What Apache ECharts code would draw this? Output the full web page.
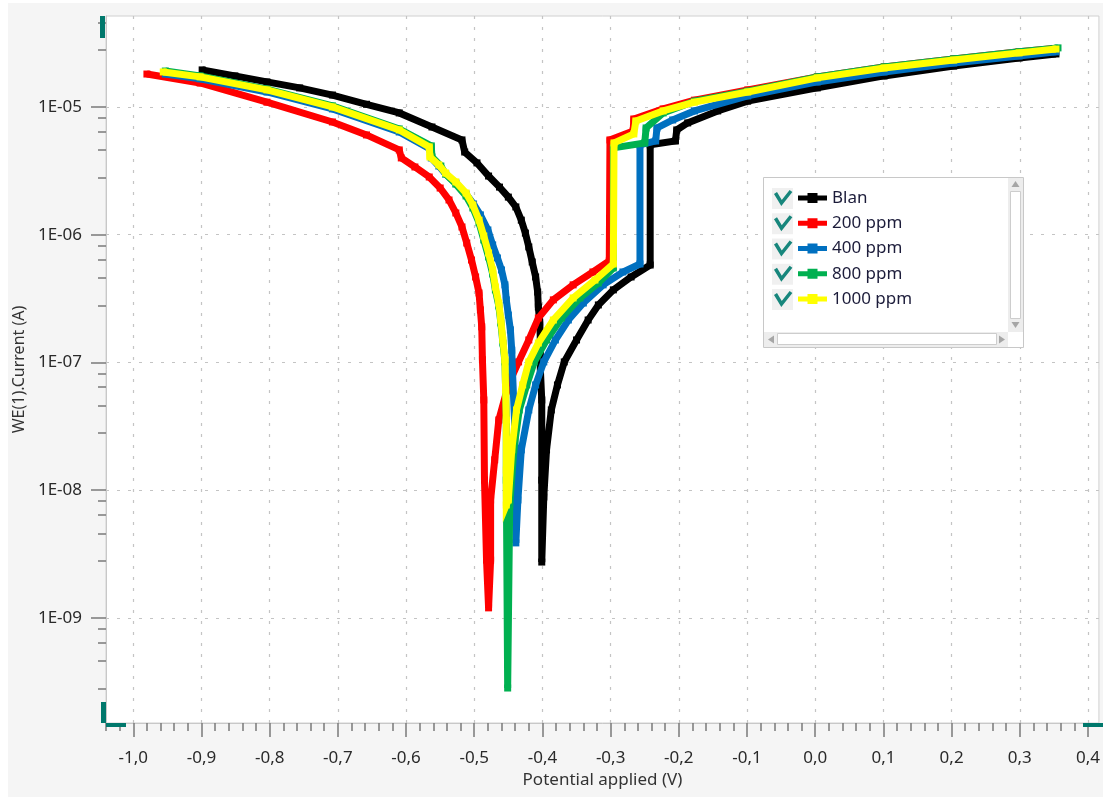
<!DOCTYPE html>
<html><head><meta charset="utf-8">
<script src="https://cdn.jsdelivr.net/npm/echarts@6/dist/echarts.min.js"></script>
<style>html,body{margin:0;padding:0;background:#fff}#chart{width:1103px;height:798px}</style>
</head><body><div id="chart"></div>
<script>
// ---- data (potential in V, current in A) ----
const seriesNames = ['Blan', '200 ppm', '400 ppm', '800 ppm', '1000 ppm'];
const seriesColors = ['#000000', '#ff0000', '#0070c0', '#00b050', '#ffff00'];

const blanPotential = [-0.899,-0.851,-0.804,-0.756,-0.708,-0.658,-0.610,-0.562,-0.518,-0.514,-0.496,-0.479,-0.463,-0.450,-0.439,-0.431,-0.425,-0.420,-0.415,-0.410,-0.407,-0.406,-0.404,-0.403,-0.403,-0.401,-0.401,-0.401,
  -0.398,-0.394,-0.387,-0.378,-0.368,-0.350,-0.333,-0.318,-0.296,-0.270,-0.242,-0.242,-0.205,-0.203,-0.187,-0.143,-0.099,0.003,0.101,0.203,0.299,0.353];
const blanCurrent = [1.95e-5,1.75e-5,1.57e-5,1.41e-5,1.24e-5,1.05e-5,8.98e-6,6.97e-6,5.52e-6,4.44e-6,3.65e-6,2.88e-6,2.36e-6,1.97e-6,1.65e-6,1.30e-6,1.03e-6,8.02e-7,6.12e-7,4.67e-7,3.56e-7,2.72e-7,2.07e-7,1.50e-7,8.74e-8,5.09e-8,1.20e-8,2.74e-9,
  8.85e-9,2.07e-8,4.25e-8,6.67e-8,1.01e-7,1.50e-7,2.15e-7,2.82e-7,3.70e-7,4.67e-7,5.79e-7,5.05e-6,5.42e-6,6.61e-6,7.50e-6,9.31e-6,1.11e-5,1.41e-5,1.75e-5,2.09e-5,2.42e-5,2.60e-5];

const ppm200Potential = [-0.980,-0.902,-0.804,-0.708,-0.658,-0.610,-0.607,-0.587,-0.566,-0.550,-0.537,-0.527,-0.518,-0.511,-0.504,-0.498,-0.493,-0.491,-0.489,-0.488,-0.486,-0.485,-0.482,-0.479,
  -0.476,-0.476,-0.470,-0.464,-0.454,-0.445,-0.435,-0.420,-0.406,-0.384,-0.355,-0.326,-0.302,-0.301,-0.267,-0.266,-0.223,-0.177,-0.099,0.003,0.101,0.203,0.299,0.350];
const ppm200Current = [1.81e-5,1.54e-5,1.09e-5,7.63e-6,6.04e-6,4.61e-6,3.99e-6,3.39e-6,2.83e-6,2.32e-6,1.87e-6,1.48e-6,1.15e-6,8.61e-7,6.34e-7,4.67e-7,3.50e-7,2.58e-7,1.90e-7,1.05e-7,5.09e-8,1.20e-8,2.84e-9,1.20e-9,
  2.84e-9,8.39e-9,1.73e-8,3.55e-8,5.57e-8,7.70e-8,1.01e-7,1.50e-7,2.23e-7,3.09e-7,4.05e-7,5.11e-7,6.23e-7,5.52e-6,6.49e-6,8.05e-6,9.65e-6,1.13e-5,1.36e-5,1.72e-5,2.06e-5,2.38e-5,2.70e-5,2.87e-5];

const ppm400Potential = [-0.953,-0.902,-0.804,-0.708,-0.610,-0.565,-0.563,-0.552,-0.542,-0.527,-0.512,-0.501,-0.491,-0.480,-0.473,-0.466,-0.460,-0.455,-0.453,-0.450,-0.447,-0.445,-0.444,-0.441,-0.439,-0.439,
  -0.436,-0.431,-0.420,-0.410,-0.398,-0.381,-0.362,-0.340,-0.311,-0.282,-0.257,-0.257,-0.234,-0.232,-0.209,-0.177,-0.099,0.003,0.101,0.203,0.299,0.353];
const ppm400Current = [1.81e-5,1.66e-5,1.31e-5,9.65e-6,6.37e-6,4.69e-6,3.99e-6,3.45e-6,2.99e-6,2.54e-6,2.08e-6,1.74e-6,1.43e-6,1.09e-6,8.32e-7,6.58e-7,5.30e-7,4.05e-7,3.09e-7,2.35e-7,1.80e-7,1.25e-7,8.74e-8,3.55e-8,1.20e-8,3.87e-9,
  8.39e-9,2.07e-8,4.25e-8,6.67e-8,1.01e-7,1.50e-7,2.15e-7,2.92e-7,4.05e-7,5.11e-7,5.90e-7,5.05e-6,5.42e-6,6.85e-6,7.91e-6,9.31e-6,1.22e-5,1.57e-5,1.88e-5,2.21e-5,2.51e-5,2.70e-5];

const ppm800Potential = [-0.953,-0.902,-0.804,-0.708,-0.610,-0.563,-0.562,-0.549,-0.542,-0.527,-0.512,-0.502,-0.493,-0.486,-0.479,-0.473,-0.469,-0.464,-0.461,-0.458,-0.455,-0.454,-0.453,-0.453,-0.451,
  -0.448,-0.442,-0.434,-0.423,-0.412,-0.394,-0.372,-0.345,-0.318,-0.296,-0.296,-0.250,-0.248,-0.223,-0.177,-0.099,0.003,0.101,0.203,0.299,0.356];
const ppm800Current = [1.91e-5,1.75e-5,1.38e-5,1.02e-5,6.73e-6,4.96e-6,4.06e-6,3.45e-6,2.99e-6,2.49e-6,2.01e-6,1.62e-6,1.24e-6,9.10e-7,6.70e-7,4.93e-7,3.70e-7,2.77e-7,2.04e-7,1.42e-7,1.01e-7,6.09e-8,3.55e-8,1.20e-8,2.83e-10,
  7.67e-9,2.07e-8,4.25e-8,6.67e-8,1.01e-7,1.50e-7,2.23e-7,3.20e-7,4.19e-7,5.49e-7,4.78e-6,5.23e-6,6.85e-6,8.98e-6,1.11e-5,1.33e-5,1.72e-5,2.06e-5,2.38e-5,2.70e-5,2.90e-5];

const ppm1000Potential = [-0.956,-0.902,-0.804,-0.708,-0.610,-0.566,-0.565,-0.552,-0.542,-0.527,-0.512,-0.502,-0.493,-0.486,-0.479,-0.473,-0.469,-0.464,-0.461,-0.458,-0.455,-0.454,-0.453,-0.453,-0.453,
  -0.450,-0.445,-0.438,-0.429,-0.420,-0.406,-0.384,-0.355,-0.323,-0.296,-0.295,-0.266,-0.263,-0.223,-0.177,-0.099,0.003,0.101,0.203,0.299,0.353];
const ppm1000Current = [1.88e-5,1.72e-5,1.36e-5,1.00e-5,6.61e-6,4.87e-6,4.06e-6,3.52e-6,3.04e-6,2.59e-6,2.12e-6,1.71e-6,1.30e-6,9.77e-7,7.20e-7,5.30e-7,3.90e-7,2.92e-7,2.15e-7,1.50e-7,1.05e-7,6.09e-8,3.55e-8,1.44e-8,7.67e-9,
  8.39e-9,2.07e-8,4.25e-8,6.67e-8,1.01e-7,1.42e-7,2.15e-7,3.20e-7,4.42e-7,5.90e-7,5.23e-6,6.15e-6,7.77e-6,9.31e-6,1.09e-5,1.31e-5,1.69e-5,2.02e-5,2.33e-5,2.65e-5,2.84e-5];

const xTickValues = [-1.0,-0.9,-0.8,-0.7,-0.6,-0.5,-0.4,-0.3,-0.2,-0.1,0.0,0.1,0.2,0.3,0.4];
const yTickExponents = [-9,-8,-7,-6,-5];   // 1E-09 ... 1E-05
const xMin = -1.04, xMax = 0.416;
const yMinExp = -9.822, yMaxExp = -4.288;

// ---- helpers ----
const potentials = [blanPotential, ppm200Potential, ppm400Potential, ppm800Potential, ppm1000Potential];
const currents = [blanCurrent, ppm200Current, ppm400Current, ppm800Current, ppm1000Current];

const xMinor = [];
for (let k = -52; k <= 20; k++) { if (k % 5 !== 0) xMinor.push(k / 50); }
const yMinor = [];
for (let d = -10; d <= -5; d++) {
  [2.8, 4.6, 6.4, 8.2].forEach(m => {
    const v = Math.log10(m) + d;
    if (v > yMinExp && v < yMaxExp) yMinor.push(v);
  });
}

const FONT = 'Noto Sans';
const gridCol = '#c4c4c4';

const series = seriesNames.map((name, i) => ({
  name: name,
  type: 'line',
  data: potentials[i].map((e, j) => [e, Math.log10(currents[i][j])]),
  color: seriesColors[i],
  lineStyle: { width: 7, color: seriesColors[i], cap: 'butt', join: 'miter' },
  symbol: 'rect',
  symbolSize: 7,
  showSymbol: true,
  itemStyle: { color: seriesColors[i] },
  emphasis: { disabled: true },
  clip: true,
  z: 2 + i
}));

// legend decoration (box, checkboxes, scrollbars)
const graphics = [
  { type: 'rect', z: -100, shape: { x: 8, y: 3, width: 1095, height: 794 }, style: { fill: '#f5f5f5' }, silent: true },
  { type: 'rect', z: 100, shape: { x: 100, y: 16, width: 5, height: 22 }, style: { fill: '#00786c' } },
  { type: 'rect', z: 100, shape: { x: 101, y: 702, width: 5, height: 21 }, style: { fill: '#00786c' } },
  { type: 'rect', z: 100, shape: { x: 106, y: 723, width: 20, height: 4 }, style: { fill: '#00786c' } },
  { type: 'rect', z: 100, shape: { x: 1083, y: 723, width: 20, height: 4 }, style: { fill: '#00786c' } },
  { type: 'rect', z: 50, shape: { x: 763.5, y: 177.5, width: 260, height: 170 }, style: { fill: '#ffffff', stroke: '#c8c8c8', lineWidth: 1 } },
  { type: 'rect', z: 51, shape: { x: 1008, y: 178, width: 15, height: 154 }, style: { fill: '#ededed' } },
  { type: 'rect', z: 52, shape: { x: 1010.5, y: 191.5, width: 10, height: 127 }, style: { fill: '#ffffff', stroke: '#cdcdcd', lineWidth: 1 } },
  { type: 'polygon', z: 52, shape: { points: [[1011.5, 187], [1015.5, 181], [1019.5, 187]] }, style: { fill: '#a6a6a6' } },
  { type: 'polygon', z: 52, shape: { points: [[1011.5, 322], [1015.5, 328], [1019.5, 322]] }, style: { fill: '#a6a6a6' } },
  { type: 'rect', z: 51, shape: { x: 764, y: 332, width: 244, height: 15 }, style: { fill: '#ededed' } },
  { type: 'rect', z: 52, shape: { x: 777.5, y: 333.5, width: 219, height: 11 }, style: { fill: '#ffffff', stroke: '#cdcdcd', lineWidth: 1 } },
  { type: 'polygon', z: 52, shape: { points: [[774, 335.5], [768, 339.5], [774, 343.5]] }, style: { fill: '#a6a6a6' } },
  { type: 'polygon', z: 52, shape: { points: [[999, 335.5], [1005, 339.5], [999, 343.5]] }, style: { fill: '#a6a6a6' } },
  { type: 'rect', z: 51, shape: { x: 1008, y: 332, width: 15, height: 15 }, style: { fill: '#ffffff' } }
];
seriesNames.forEach((n, i) => {
  const cy = 198.5 + 25.25 * i;
  graphics.push({ type: 'rect', z: 53, shape: { x: 772, y: cy - 10.5, width: 21, height: 21 }, style: { fill: '#f0f0f0' } });
  graphics.push({ type: 'polyline', z: 54, shape: { points: [[775.5, cy - 5.5], [781.5, cy + 4.5], [791, cy - 7.5]] }, style: { stroke: '#17867c', lineWidth: 3.5, fill: null } });
});

const chart = echarts.init(document.getElementById('chart'), null, { renderer: 'canvas' });
chart.setOption({
  animation: false,
  backgroundColor: '#ffffff',
  textStyle: { fontFamily: FONT },
  grid: { left: 106, top: 16, right: 0, bottom: 75, show: true, backgroundColor: '#ffffff', borderColor: '#d0d0d0', borderWidth: 1 },
  legend: {
    data: seriesNames,
    orient: 'vertical',
    left: 798, top: 189,
    padding: 0,
    itemWidth: 29, itemHeight: 10, itemGap: 7.25,
    icon: 'path://M0,2.5H9.5V0H19.5V2.5H29V7.5H19.5V10H9.5V7.5H0Z',
    textStyle: { fontFamily: FONT, fontSize: 17, color: '#1c1c3a', lineHeight: 18 },
    selectedMode: false,
    z: 60
  },
  xAxis: [{
    type: 'value', min: xMin, max: xMax,
    name: 'Potential applied (V)', nameLocation: 'middle', nameGap: 44,
    nameTextStyle: { fontFamily: FONT, fontSize: 17, color: '#333333' },
    axisLine: { show: true, onZero: false, lineStyle: { color: '#c8c8c8', width: 1 } },
    axisTick: { show: true, length: 14, customValues: xTickValues, lineStyle: { color: '#7a7a7a', width: 1.5 } },
    axisLabel: { customValues: xTickValues, margin: 27, fontFamily: FONT, fontSize: 17, color: '#2a2a2a',
      formatter: v => v.toFixed(1).replace('.', ',').replace('-0,0', '0,0') },
    splitLine: { show: true, lineStyle: { color: gridCol, type: [3, 8], width: 1.2 } }
  }, {
    type: 'value', min: xMin, max: xMax, position: 'bottom',
    axisLine: { show: false, onZero: false },
    axisTick: { show: true, length: 8, customValues: xMinor, lineStyle: { color: '#7a7a7a', width: 1.5 } },
    axisLabel: { show: false }, splitLine: { show: false }
  }],
  yAxis: [{
    type: 'value', min: yMinExp, max: yMaxExp,
    name: 'WE(1).Current (A)', nameLocation: 'middle', nameGap: 79,
    nameTextStyle: { fontFamily: FONT, fontSize: 16, color: '#333333' },
    axisLine: { show: true, onZero: false, lineStyle: { color: '#c8c8c8', width: 1 } },
    axisTick: { show: true, length: 15, customValues: yTickExponents, lineStyle: { color: '#7a7a7a', width: 1.5 } },
    axisLabel: { customValues: yTickExponents, margin: 24, fontFamily: FONT, fontSize: 17, color: '#2a2a2a',
      formatter: v => '1E-' + String(-Math.round(v)).padStart(2, '0') },
    splitLine: { show: true, lineStyle: { color: gridCol, type: [3, 8], width: 1.2 } }
  }, {
    type: 'value', min: yMinExp, max: yMaxExp, position: 'left',
    axisLine: { show: false, onZero: false },
    axisTick: { show: true, length: 8, customValues: yMinor, lineStyle: { color: '#7a7a7a', width: 1.5 } },
    axisLabel: { show: false }, splitLine: { show: false }
  }],
  graphic: graphics,
  series: series
});
</script></body></html>
